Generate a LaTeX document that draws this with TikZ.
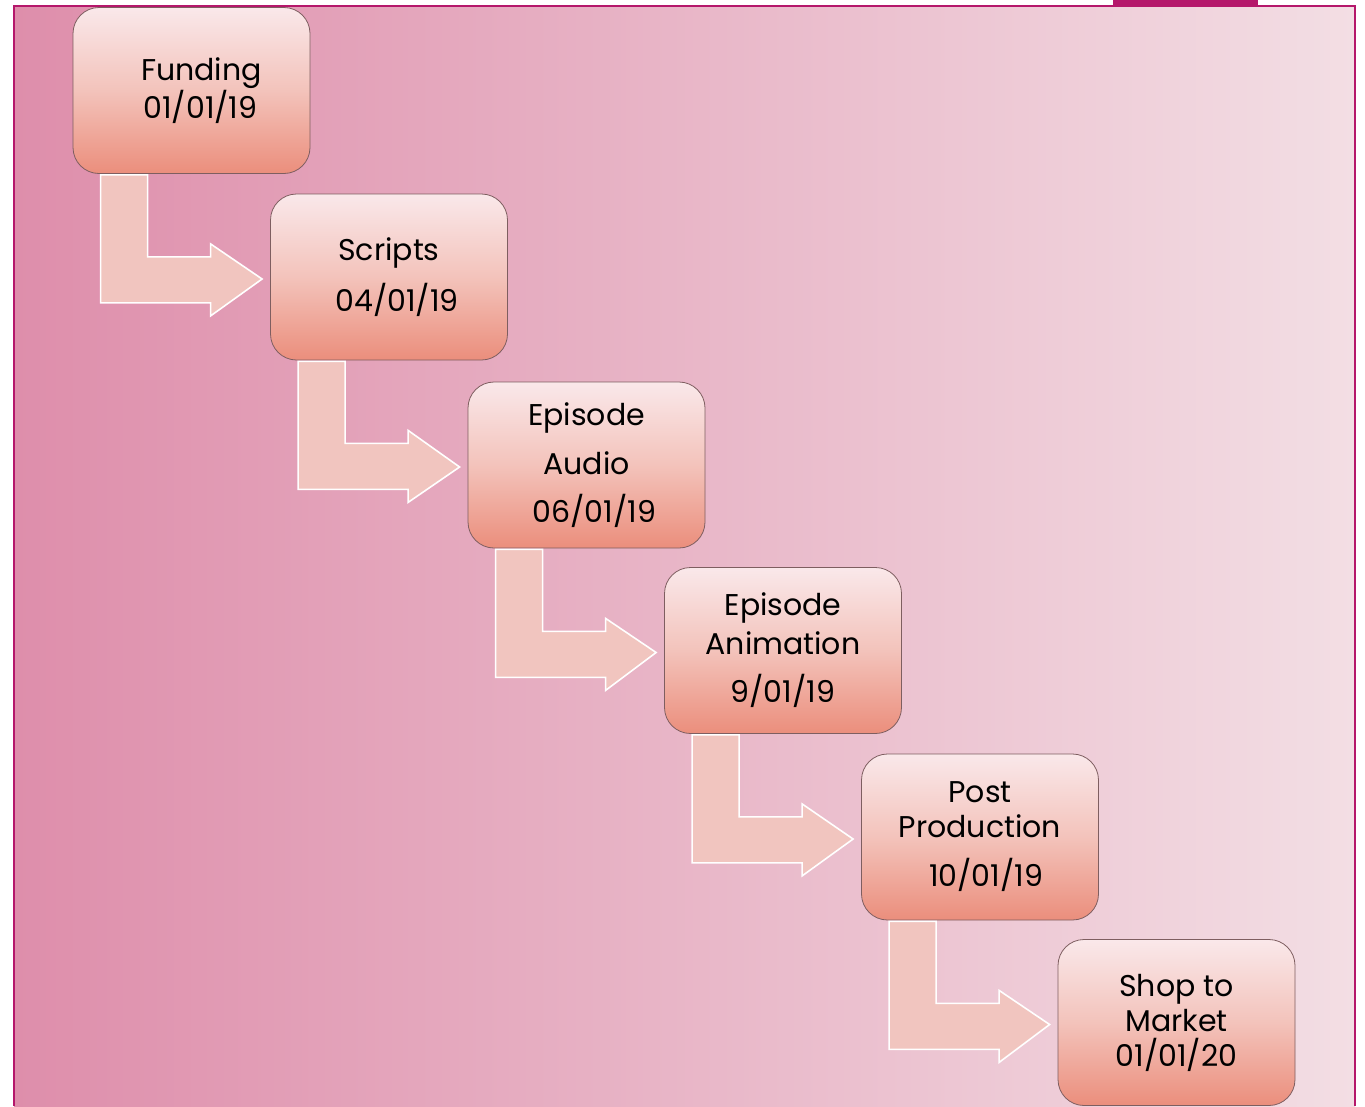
\documentclass[tikz,border=0pt]{standalone}
\usepackage{fontspec}
\setmainfont{Poppins}
\usetikzlibrary{calc}
\definecolor{framemag}{HTML}{B5176B}
\definecolor{bgleft}{HTML}{DE8EAB}
\definecolor{bgright}{HTML}{F3DEE4}
\definecolor{boxtop}{HTML}{FAE8EA}
\definecolor{boxmid}{HTML}{F3C3BB}
\definecolor{boxbottom}{HTML}{EB8E7C}
\definecolor{boxedge}{HTML}{7E5E60}
\definecolor{arrowfill}{HTML}{F1C5BF}
\tikzset{
  stage/.style={draw=boxedge,line width=0.8pt,rounded corners=26pt,
    minimum width=237pt,minimum height=166pt,inner sep=0pt,
    top color=boxtop,bottom color=boxbottom,middle color=boxmid,
    align=center,font=\fontsize{30}{35}\selectfont},
  bentarr/.style={fill=arrowfill,draw=white,line width=1.6pt,line join=miter}
}
% bent arrow from the bottom of one stage to the left side of the next
\newcommand{\linkarrow}[2]{%
  \draw[bentarr] ($(#1.south west)+(28,1)$) -- ($(#1.south west)+(75,1)$)
    -- ($(#1.south west)+(75,83)$) -- ($(#1.south west)+(138,83)$)
    -- ($(#1.south west)+(138,70)$) -- ($(#2.west)+(-8,2)$)
    -- ($(#1.south west)+(138,142)$) -- ($(#1.south west)+(138,129)$)
    -- ($(#1.south west)+(28,129)$) -- cycle;}
\begin{document}
\begin{tikzpicture}[x=1pt,y=-1pt]
\useasboundingbox (0,0) rectangle (1365,1106);
\fill[white] (0,0) rectangle (1365,1106);
\shade[left color=bgleft,right color=bgright] (14,6) rectangle (1355,1106);
\draw[framemag,line width=2pt] (14,1106) -- (14,6) -- (1355,6) -- (1355,1106);
\fill[framemag] (1113,0) rectangle (1258,5);
\node[stage] (funding) at (191.5,90.5) {\hspace*{20pt}Funding\\\hspace*{18pt}01/01/19};
\node[stage] (scripts) at (389,277) {Scripts\\[14pt]\hspace*{16pt}04/01/19};
\node[stage] (audio) at (586.5,465) {Episode\\[14pt]Audio\\[13pt]\hspace*{16pt}06/01/19};
\node[stage] (animation) at (783,650.5) {Episode\\[4pt]Animation\\[13pt]9/01/19};
\node[stage] (post) at (980,837) {Post\\Production\\[14pt]\hspace*{12pt}10/01/19};
\node[stage] (shop) at (1176.5,1022.5) {Shop to\\Market\\01/01/20};
\linkarrow{funding}{scripts}
\linkarrow{scripts}{audio}
\linkarrow{audio}{animation}
\linkarrow{animation}{post}
\linkarrow{post}{shop}
\end{tikzpicture}
\end{document}
